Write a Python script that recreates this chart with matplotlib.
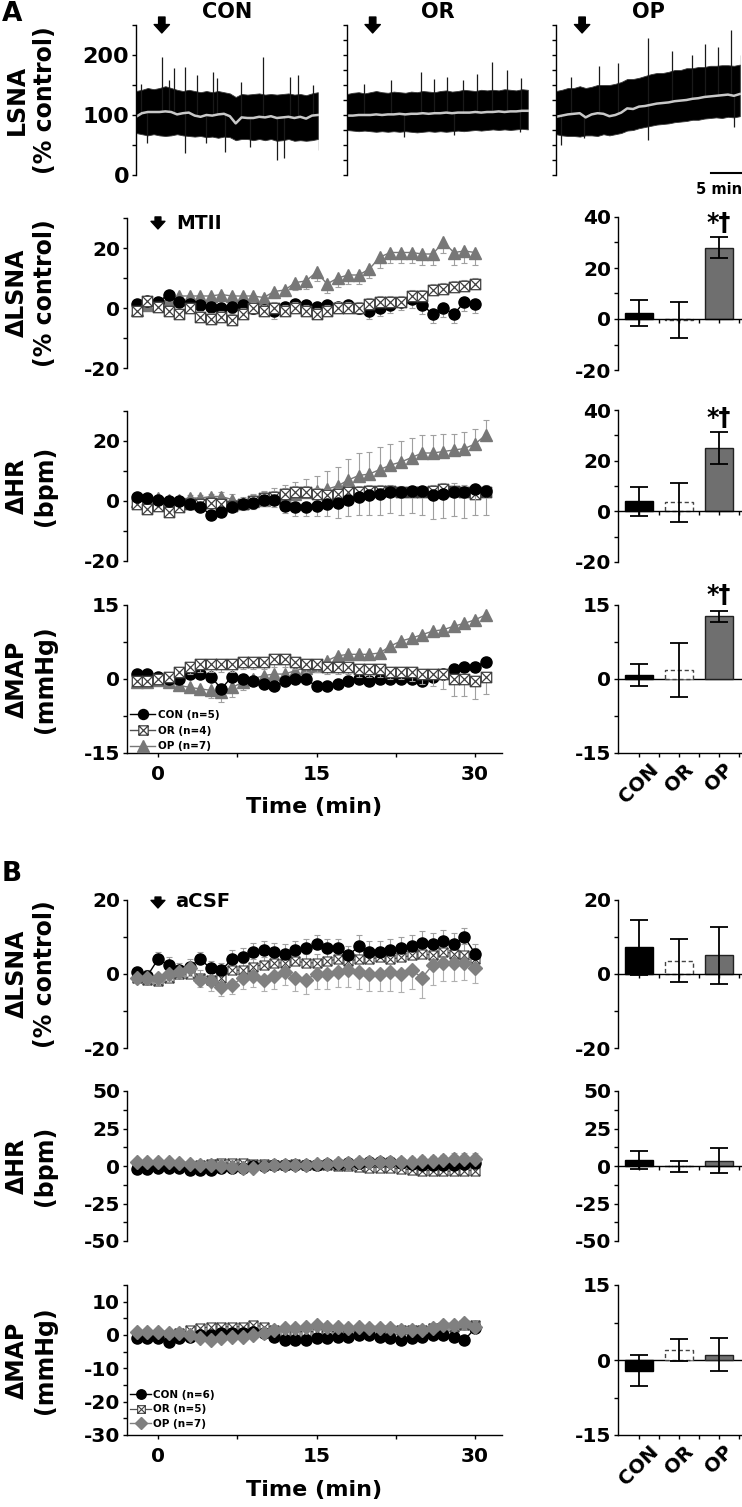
import numpy as np
import matplotlib
matplotlib.use("Agg")
import matplotlib.pyplot as plt
from matplotlib.path import Path
from matplotlib.ticker import FixedLocator

plt.rcParams['font.family'] = 'DejaVu Sans'
plt.rcParams['font.weight'] = 'bold'
plt.rcParams['axes.unicode_minus'] = False
plt.rcParams['axes.linewidth'] = 1.0

# ---------------- data ----------------
groups = ['CON', 'OR', 'OP']

# raw LSNA traces (% control), one value per minute
trace_t = np.arange(32) - 4.4
con_mean = [97, 103, 105, 105, 105, 106, 105, 101, 103, 104, 99, 97, 100, 99, 101, 102,
            98, 86, 96, 95, 95, 97, 96, 98, 95, 96, 97, 95, 97, 94, 99, 100]
con_hi = [140, 142, 145, 143, 145, 148, 145, 142, 140, 142, 140, 138, 140, 138, 140, 138,
          136, 130, 135, 134, 135, 136, 134, 135, 134, 135, 136, 134, 135, 133, 136, 138]
con_lo = [70, 68, 66, 68, 66, 65, 66, 68, 66, 65, 64, 65, 63, 64, 62, 64,
          63, 58, 60, 60, 58, 60, 58, 60, 57, 58, 60, 57, 58, 57, 58, 60]
con_spk_t = [-3.5, 0.0, 1.2, 2.0, 4.0, 6.0, 8.8, 9.4, 13.5, 17.3, 21.8, 23.2, 25.8,
             -2.6, 4.0, 7.6, 10.8, 15.0, 19.6, 20.8, 26.8]
con_spk_v = [152, 197, 158, 178, 180, 167, 172, 161, 155, 197, 164, 167, 150,
             53, 36, 53, 39, 47, 25, 28, 42]

or_mean = [99, 99, 100, 100, 100, 101, 100, 101, 101, 102, 101, 102, 102, 103, 102, 103,
           103, 104, 103, 104, 104, 104, 105, 104, 105, 105, 106, 105, 106, 106, 107, 107]
or_hi = [135, 137, 138, 136, 138, 140, 138, 137, 139, 138, 137, 139, 138, 140, 139, 138,
         140, 141, 139, 140, 142, 141, 140, 142, 141, 142, 141, 143, 142, 141, 143, 142]
or_lo = [75, 74, 73, 74, 73, 72, 73, 72, 73, 72, 73, 72, 71, 72, 73, 72,
         73, 72, 73, 74, 73, 74, 75, 74, 75, 76, 75, 76, 75, 76, 77, 76]
or_spk_t = [-1.5, 3.1, 8.2, 10.5, 12.8, 15.5, 17.9, 20.4, 23.0, 25.5, 5.3, 13.9, 25.3]
or_spk_v = [152, 158, 172, 160, 164, 158, 169, 189, 175, 161, 64, 67, 72]

op_mean = [97, 99, 101, 102, 103, 96, 101, 103, 102, 98, 100, 104, 111, 110, 114, 115,
           117, 119, 120, 121, 123, 124, 125, 127, 128, 130, 131, 132, 133, 134, 132, 135]
op_hi = [140, 142, 145, 145, 148, 145, 147, 150, 150, 150, 152, 155, 160, 160, 162, 165,
         168, 170, 170, 172, 175, 175, 178, 178, 180, 180, 182, 182, 183, 183, 182, 184]
op_lo = [68, 66, 65, 65, 64, 66, 66, 65, 68, 66, 68, 70, 74, 75, 78, 80,
         82, 84, 85, 86, 88, 89, 90, 92, 92, 94, 95, 96, 95, 97, 96, 98]
op_spk_t = [-1.8, 2.9, 6.1, 11.2, 15.2, 18.6, 20.8, 22.9, 25.1, 26.8, -3.5, 0.4, 11.2, 25.6]
op_spk_v = [164, 181, 186, 228, 206, 200, 219, 214, 242, 200, 50, 61, 58, 80]

# panel A time courses (MTII)
t_a_lsna = np.arange(-2, 31)
t_a = np.arange(-2, 32)
con_lsna_a = [1.5, 2.5, 2, 4.5, 2, 1.5, 1, 0.5, 0, 0.5, 1, 0, -0.5, -1, 0.5, 1.5, 1,
              0.5, 1, 0.5, 1, 0, -1, 0, 1, 2, 3, 1, -2, 0, -2, 2, 1.5]
con_lsna_a_err = [1.5, 1.5, 2, 2, 1.5, 1.5, 1.5, 1.5, 1.5, 2, 2, 2, 2, 2.5, 2.5, 2.5, 2,
                  2, 2, 2, 2, 2, 2.5, 2.5, 2.5, 2.5, 3, 3, 3, 3, 3, 3, 3]
or_lsna_a = [-1, 2.5, 0.5, -1, -2, 0, -3, -3.5, -3, -4, -2, 0, -1, 0, -1, 0, -1,
             -2, -1, 0, 0, 0, 1.5, 2, 2, 2, 4, 4, 6, 6.5, 7, 7.5, 8]
or_lsna_a_err = [1.5, 1.5, 1.5, 1.5, 1.5, 1.5, 2, 2, 2, 2, 2, 2, 2, 2, 2, 2, 2,
                 2, 2, 2, 2, 2, 2, 2, 2, 2, 2, 2, 2, 2, 2, 2, 2]
op_lsna_a = [-0.5, 1, 1.5, 3, 4, 4, 4, 4, 4.5, 4, 4, 4, 3.5, 5.5, 6, 8.5, 9,
             12, 8, 10, 11, 11, 13, 17, 18.5, 18.5, 18.5, 18, 18, 22, 18.5, 19, 18.5]
op_lsna_a_err = [1.5, 1.5, 1.5, 2, 2, 2, 2, 2, 2, 2, 2, 2, 2, 2, 2, 2.5, 2.5,
                 3, 3, 3, 3, 3, 3, 3.5, 3.5, 3.5, 3.5, 3.5, 3.5, 3.5, 4, 4, 4]

con_hr_a = [1.5, 1, 0.5, 0, 0, -1, -2, -4.5, -3.5, -2, -1, -0.5, 0.5, 0.5, -1.5, -2, -2,
            -1.5, -1, -0.5, 0.5, 1.5, 2, 2.5, 3, 3, 3.5, 3.5, 2, 2.5, 3, 3, 4, 3.5]
con_hr_a_err = [1, 1, 1, 1, 1, 1, 1.5, 1.5, 1.5, 1.5, 2, 2, 2, 2.5, 2.5, 3, 3,
                3.5, 4, 5, 5.5, 6, 6.5, 7, 7, 7.5, 7.5, 8, 8, 8, 8, 8.5, 8.5, 8]
or_hr_a = [-1, -2.5, -1.5, -3.5, -2, -1, -1, -0.5, -1, -1.5, -1, 0, 1, 1.5, 2.5, 3, 3,
           2.5, 2, 2.5, 3, 3, 3.5, 3.5, 3.5, 3, 3, 3, 3.5, 4, 3.5, 3, 2.5, 3]
or_hr_a_err = [1, 1, 1, 1, 1, 1, 1, 1, 1.5, 1.5, 1.5, 2, 2, 2, 2, 2, 2,
               2, 2, 2, 2, 2, 2, 2, 2, 2, 2, 2, 2, 2, 2.5, 2.5, 2.5, 2.5]
op_hr_a = [0, 0.5, 1, 0.5, 0.5, 1, 1, 1.5, 1.5, 0.5, -0.5, 0, 0.5, 1, 1.5, 2.5, 3,
           3.5, 4, 5, 7, 8.5, 9, 10.5, 12, 13, 14.5, 16, 16, 16.5, 17, 17.5, 19, 22]
op_hr_a_err = [1, 1, 1, 1, 1, 1, 1, 1, 1.5, 2, 2, 2.5, 3, 3.5, 4, 4, 4.5,
               5, 6, 6.5, 7, 7.5, 7.5, 7.5, 7, 7, 6.5, 6, 6, 6, 5.5, 5.5, 5, 5]

con_map_a = [1, 1, 0.5, 0, 0, 1, 1, 0.5, -2, 0.5, 0, -0.5, -1, -1.5, -0.5, 0, 0,
             -1.5, -1.5, -1, -0.5, 0, -0.5, 0, 0, 0, 0, -0.5, 0.5, 1, 2, 2.5, 2.5, 3.5]
con_map_a_err = [0.8, 0.8, 0.8, 0.8, 0.8, 1, 1, 1, 1, 1, 1, 1, 1, 1, 1, 1, 1,
                 1, 1, 1, 1, 1, 1, 1, 1, 1, 1, 1, 1, 1, 1, 1, 1, 1]
or_map_a = [-0.5, -0.5, 0, 0.5, 1.5, 2.5, 3, 3, 3, 3, 3.5, 3.5, 3.5, 4, 4, 3.5, 3,
            3, 2.5, 2.5, 2.5, 2, 2, 2, 1.5, 1.5, 1.5, 1, 1, 1, 0, 0, -0.5, 0.5]
or_map_a_err = [1, 1, 1, 1, 1, 1.5, 1.5, 1.5, 1.5, 1.5, 1.5, 1.5, 1.5, 1.5, 1.5, 1.5, 1.5,
                1.5, 1.5, 1.5, 1.5, 1.5, 1.5, 1.5, 1.5, 1.5, 2, 2, 2.5, 3, 3.5, 3.5, 3.5, 3.5]
op_map_a = [-0.7, -0.7, -0.3, -0.7, -1.3, -1.7, -2, -2.3, -2.7, -1.7, -0.7, 0, 0.7, 1, 1, 1.7, 2.3,
            2.7, 3.7, 4.7, 5, 5, 5, 5.3, 6.7, 7.7, 8.3, 9, 9.7, 10, 10.7, 11.3, 12, 13]
op_map_a_err = [0.5, 0.5, 0.5, 0.5, 0.8, 1, 1.2, 1.5, 2, 2, 1.5, 1, 1, 1, 1, 1, 1,
                1, 1, 1, 1, 1, 1, 1, 1, 1, 1, 1, 1, 1, 1, 1, 1, 1]

# panel B time courses (aCSF)
t_b = np.arange(-2, 31)
con_lsna_b = [0.5, -0.5, 4, 2.5, 1, 2, 4, 1.5, 1, 4, 4.5, 6, 6.5, 6, 5.5, 6.5, 7,
              8, 7, 7, 5, 7.5, 6, 6, 6.5, 7, 7.5, 8.5, 8, 9, 8, 10, 5.5]
con_lsna_b_err = [1.5, 1.5, 2, 2, 2, 2, 2, 2, 2, 2.5, 2.5, 2.5, 2.5, 2.5, 2.5, 2.5, 2.5,
                  2.5, 2.5, 2.5, 2.5, 3, 3, 3, 3, 3, 3, 3, 3, 3, 3, 2.5, 2.5]
or_lsna_b = [-1, -1.5, -2, -1, 0, 0, -1, -1.5, -1, 1, 1, 2, 2.5, 3, 3, 3.5, 3,
             3, 3.5, 4, 3.5, 4, 4, 4.5, 4, 4.5, 5, 5.5, 5, 6, 5.5, 5, 4]
or_lsna_b_err = [1.5, 1.5, 1.5, 1.5, 1.5, 2, 2, 2, 2, 2, 2, 2, 2, 2, 2, 2.5, 2.5,
                 2.5, 2.5, 2.5, 2.5, 2.5, 2.5, 2.5, 3, 3, 3, 3, 3, 3, 3, 3, 3]
op_lsna_b = [-1, -1, -1, 0, 0.5, 1.5, -1.5, -2, -3.5, -3, -1, -0.5, -1.5, -0.5, 0.5, -1, -1.5,
             0, 0, 0.5, 1, 0.5, 0, 0, 0.5, 0, 1, -1, 2.5, 3, 3, 3, 1.5]
op_lsna_b_err = [1.5, 1.5, 1.5, 1.5, 1.5, 2, 2, 2.5, 2.5, 2.5, 3, 3, 3, 3.5, 3.5, 3.5, 4,
                 4, 4, 4, 4.5, 4.5, 4.5, 4.5, 5, 5, 5, 5.5, 5.5, 5, 5, 4.5, 4]

con_hr_b = [-2, -2, -1, -1, -1, -2.5, -2.5, -2.5, -1.5, -1, -1, 0, 0, 0.5, 0.5, 0.5, 1,
            1, 1.5, 1.5, 2, 2, 2.5, 2.5, 2.5, 2, 1.5, 1, 0.5, 1, 1, 1.5, 2]
con_hr_b_err = [1.5, 1.5, 1.5, 1.5, 1.5, 1.5, 1.5, 1.5, 2, 2, 2, 2, 2, 2, 2, 2, 2,
                2, 2, 2, 2, 2, 2, 2, 2, 2, 2, 2, 2, 2, 2.5, 2.5, 2.5]
or_hr_b = [1, 0.5, 0, 0.5, 0, 0, 1, 1.5, 2, 2, 2, 1.5, 1.5, 1, 1, 1.5, 1,
           1, 0.5, 0, 0, -0.5, -1, -1, -1.5, -2, -2.5, -3, -3, -3.5, -3.5, -3, -3]
or_hr_b_err = [1.5, 1.5, 1.5, 1.5, 1.5, 1.5, 1.5, 1.5, 1.5, 1.5, 2, 2, 2, 2, 2, 2, 2,
               2, 2, 2, 2, 2, 2, 2, 2, 2, 2.5, 2.5, 2.5, 2.5, 2.5, 2.5, 2.5]
op_hr_b = [3, 3, 3, 2.5, 2, 1.5, 1, 0.5, 0, -0.5, -1.5, -1, 0, 0.5, 0.5, 0.5, 1,
           1.5, 1.5, 2, 2, 2.5, 2.5, 2.5, 3, 3, 3, 3.5, 3.5, 4, 4.5, 5, 5]
op_hr_b_err = [2, 2, 2, 2, 2, 2, 2, 2, 2, 2, 2, 2, 2, 2, 2, 2, 2.5,
               2.5, 2.5, 2.5, 2.5, 2.5, 3, 3, 3, 3, 3, 3.5, 3.5, 3.5, 4, 4, 4]

con_map_b = [-1, -1, -1, -2, -1, -0.5, 0, 0, 0.5, 0.5, 0.5, 1, 0.5, -0.5, -1.5, -1.5, -1.5,
             -1, -1, -0.5, -0.5, 0, 0, -0.5, -1, -1.5, -1, -0.5, 0, 0, -0.5, -1.5, 2]
con_map_b_err = [0.8, 0.8, 0.8, 0.8, 0.8, 0.8, 0.8, 0.8, 0.8, 0.8, 1, 1, 1, 1, 1, 1, 1,
                 1, 1, 1, 1, 1, 1, 1, 1, 1, 1, 1, 1, 1, 1, 1, 1]
or_map_b = [0, 0, 0, 0, 0.5, 1.5, 2, 2.5, 2.5, 2.5, 2.5, 3, 2.5, 1.5, 1, 1, 1,
            1, 1, 1, 1, 1.5, 1.5, 1.5, 1.5, 1.5, 1.5, 1.5, 2, 2.5, 2.5, 3, 3]
or_map_b_err = [1, 1, 1, 1, 1, 1, 1, 1, 1, 1, 1.2, 1.2, 1.2, 1.2, 1.2, 1.2, 1.2,
                1.2, 1.2, 1.2, 1.2, 1.2, 1.2, 1.2, 1.2, 1.2, 1.2, 1.2, 1.2, 1.2, 1.2, 1.2, 1.2]
op_map_b = [1, 1, 1, 0.5, 0.5, 0, -1, -1.5, -1, -0.5, -0.5, 0, 0.5, 1.5, 2, 2, 2.5,
            3, 2.5, 2.5, 2, 2.5, 2, 2, 2, 1.5, 1.5, 1.5, 2, 3, 3, 3.5, 2.5]
op_map_b_err = [0.8, 0.8, 0.8, 0.8, 0.8, 0.8, 0.8, 0.8, 0.8, 0.8, 1, 1, 1, 1, 1, 1, 1,
                1, 1, 1, 1, 1, 1, 1, 1, 1, 1, 1, 1, 1, 1, 1, 1]

# summary bars (mean, SEM) for CON, OR, OP
bar_a_lsna = [2.3, -0.5, 28.0]
bar_a_lsna_err = [5.0, 7.0, 4.0]
bar_a_hr = [3.9, 3.5, 25.0]
bar_a_hr_err = [5.6, 7.8, 6.4]
bar_a_map = [0.8, 1.8, 12.7]
bar_a_map_err = [2.3, 5.4, 1.1]
bar_b_lsna = [7.2, 3.6, 5.1]
bar_b_lsna_err = [7.4, 5.8, 7.7]
bar_b_hr = [4.2, -0.3, 3.6]
bar_b_hr_err = [6.0, 3.7, 8.2]
bar_b_map = [-2.1, 2.1, 1.1]
bar_b_map_err = [3.1, 2.2, 3.3]

# ---------------- layout ----------------
W, H = 742, 1507
fig = plt.figure(figsize=(W / 100, H / 100), dpi=100)


def box(x0, x1, y0, y1):
    return fig.add_axes([x0 / W, 1 - y1 / H, (x1 - x0) / W, (y1 - y0) / H])


def ftext(x, y, s, **kw):
    fig.text(x / W, 1 - y / H, s, **kw)


# boxed-X marker for OR
box_x = Path([(-1, -1), (1, -1), (1, 1), (-1, 1), (-1, -1), (-1, -1), (1, 1), (-1, 1), (1, -1)],
             [Path.MOVETO, Path.LINETO, Path.LINETO, Path.LINETO, Path.CLOSEPOLY,
              Path.MOVETO, Path.LINETO, Path.MOVETO, Path.LINETO])


def yaxis_style(ax, ylim, major, minor, size=14.5, labels=True):
    ax.set_ylim(ylim)
    ax.yaxis.set_major_locator(FixedLocator(major))
    ax.yaxis.set_minor_locator(FixedLocator(minor))
    ax.tick_params(axis='y', which='both', direction='out', length=3, width=1,
                   pad=2, labelsize=size, labelleft=labels)
    ax.spines['top'].set_visible(False)
    ax.spines['right'].set_visible(False)


def down_arrow(ax, x, y0, y1, scale=10):
    ax.annotate('', xy=(x, y1), xytext=(x, y0), xycoords=('data', 'axes fraction'),
                textcoords=('data', 'axes fraction'), annotation_clip=False,
                arrowprops=dict(arrowstyle='simple,head_length=0.55,head_width=1.0,tail_width=0.42',
                                color='black', shrinkA=0, shrinkB=0, mutation_scale=scale))


# ---- raw traces ----
traces = [
    (136, 319, con_mean, con_hi, con_lo, con_spk_t, con_spk_v, 'CON', 227),
    (347, 529, or_mean, or_hi, or_lo, or_spk_t, or_spk_v, 'OR', 438),
    (556, 741, op_mean, op_hi, op_lo, op_spk_t, op_spk_v, 'OP', 648),
]
for i, (x0, x1, mean, hi, lo, st, sv, name, tx) in enumerate(traces):
    ax = box(x0, x1, 25, 175)
    ax.fill_between(trace_t, lo, hi, color='black', lw=0.6, edgecolor='#3a3a3a')
    base = np.interp(st, trace_t, mean)
    ax.vlines(st, base, sv, color='#1a1a1a', lw=0.9)
    ax.plot(trace_t, mean, color='#c8c8c8', lw=1.8)
    ax.set_xlim(-4.4, 26.8)
    ax.spines['bottom'].set_visible(False)
    ax.set_xticks([])
    if i == 0:
        yaxis_style(ax, (0, 250), [0, 100, 200], [50, 150, 250], size=16)
    else:
        yaxis_style(ax, (0, 250), [0, 50, 100, 150, 200, 250], [25, 75, 125, 175, 225],
                    labels=False)
    down_arrow(ax, 0, 1.053, 0.947, scale=11)
    ftext(tx, 12, name, ha='center', va='center', fontsize=15)
    if i == 2:
        ax.plot([21.8, 26.8], [3, 3], color='black', lw=1.5, clip_on=False)
        ax.text(23.1, -25, '5 min', ha='center', va='center', fontsize=10.5)

# ---- time-course panels ----
st_con = dict(color='black', marker='o', ms=8, mfc='black', mec='black', lw=1)
st_or = dict(color='#505050', marker=box_x, ms=7.5, mfc='white', mec='#404040', mew=0.9, lw=1)
st_op_a = dict(color='#777777', marker='^', ms=9, mfc='#777777', mec='#777777', lw=1)
st_or_b = dict(color='#505050', marker=box_x, ms=6.5, mfc='white', mec='#404040', mew=0.8, lw=0.9)
st_op_b = dict(color='#808080', marker='D', ms=7, mfc='#808080', mec='#808080', lw=1)


def series(ax, t, y, err, up, style, z, ecol='#a0a0a0'):
    e = np.asarray(err, float)
    zero = np.zeros_like(e)
    yerr = [zero, e] if up else [e, zero]
    ax.errorbar(t, y, yerr=yerr, fmt='none', ecolor=ecol, elinewidth=0.8,
                capsize=2.2, capthick=0.8, zorder=z - 0.5)
    return ax.plot(t, y, zorder=z, **style)[0]


def ts_axes(y0, y1, ylim, major, minor, bottom=False):
    ax = box(127, 502, y0, y1)
    ax.set_xlim(-2.93, 32.55)
    yaxis_style(ax, ylim, major, minor)
    if bottom:
        ax.xaxis.set_major_locator(FixedLocator([0, 15, 30]))
        ax.xaxis.set_minor_locator(FixedLocator([7.5, 22.5]))
        ax.tick_params(axis='x', which='both', direction='out', length=3, width=1,
                       pad=6, labelsize=14.5)
    else:
        ax.spines['bottom'].set_visible(False)
        ax.set_xticks([])
    return ax


# A: LSNA
ax = ts_axes(218, 368, (-20, 30), [-20, 0, 20], [-10, 10, 30])
series(ax, t_a_lsna, op_lsna_a, op_lsna_a_err, False, st_op_a, 2)
series(ax, t_a_lsna, con_lsna_a, con_lsna_a_err, False, st_con, 3)
series(ax, t_a_lsna, or_lsna_a, or_lsna_a_err, True, st_or, 4)
down_arrow(ax, 0, 1.007, 0.927)
ax.text(1.7, 0.965, 'MTII', transform=ax.get_xaxis_transform(), ha='left', va='center', fontsize=13.5)

# A: HR
ax = ts_axes(411, 561, (-20, 30), [-20, 0, 20], [-10, 10, 30])
series(ax, t_a, op_hr_a, op_hr_a_err, True, st_op_a, 2)
series(ax, t_a, or_hr_a, or_hr_a_err, True, st_or, 3)
series(ax, t_a, con_hr_a, con_hr_a_err, False, st_con, 4)

# A: MAP
ax = ts_axes(605, 753, (-15, 15), [-15, 0, 15], [-7.5, 7.5], bottom=True)
h_op = series(ax, t_a, op_map_a, op_map_a_err, False, st_op_a, 2)
h_con = series(ax, t_a, con_map_a, con_map_a_err, True, st_con, 3)
h_or = series(ax, t_a, or_map_a, or_map_a_err, False, st_or, 4)
ax.legend([h_con, h_or, h_op], ['CON (n=5)', 'OR (n=4)', 'OP (n=7)'], loc='lower left',
          bbox_to_anchor=(0.0, -0.01), frameon=False, fontsize=7.5, handlelength=2.4,
          handletextpad=0.3, labelspacing=0.55, borderpad=0, borderaxespad=0.3,
          markerscale=0.9)
ftext(314, 807, 'Time (min)', ha='center', va='center', fontsize=16)

# B: LSNA
ax = ts_axes(900, 1048, (-20, 20), [-20, 0, 20], [-10, 10])
series(ax, t_b, or_lsna_b, or_lsna_b_err, True, st_or_b, 2)
series(ax, t_b, con_lsna_b, con_lsna_b_err, True, st_con, 3)
series(ax, t_b, op_lsna_b, op_lsna_b_err, False, st_op_b, 4, ecol='#b0b0b0')
down_arrow(ax, 0, 1.02, 0.946)
ax.text(1.6, 0.99, 'aCSF', transform=ax.get_xaxis_transform(), ha='left', va='center', fontsize=14)

# B: HR
ax = ts_axes(1091, 1241, (-50, 50), [-50, -25, 0, 25, 50], [-37.5, -12.5, 12.5, 37.5])
series(ax, t_b, or_hr_b, or_hr_b_err, False, st_or_b, 2)
series(ax, t_b, con_hr_b, con_hr_b_err, False, st_con, 3)
series(ax, t_b, op_hr_b, op_hr_b_err, True, st_op_b, 4, ecol='#b0b0b0')

# B: MAP
ax = ts_axes(1285, 1435, (-30, 15), [-30, -20, -10, 0, 10], [-25, -15, -5, 5, 15], bottom=True)
h_or = series(ax, t_b, or_map_b, or_map_b_err, True, st_or_b, 2)
h_con = series(ax, t_b, con_map_b, con_map_b_err, False, st_con, 3)
h_op = series(ax, t_b, op_map_b, op_map_b_err, True, st_op_b, 4, ecol='#b0b0b0')
ax.legend([h_con, h_or, h_op], ['CON (n=6)', 'OR (n=5)', 'OP (n=7)'], loc='lower left',
          bbox_to_anchor=(0.0, 0.02), frameon=False, fontsize=7.5, handlelength=2.0,
          handletextpad=0.2, labelspacing=0.45, borderpad=0, borderaxespad=0.3,
          markerscale=0.85)
ftext(314, 1490, 'Time (min)', ha='center', va='center', fontsize=16)

# ---- bar panels ----
def bar_panel(y0, y1, means, errs, ylim, major, minor, labels=False, star=False):
    ax = box(618, 742, y0, y1)
    xs = [0, 1, 2]
    ax.bar(0, means[0], width=0.7, color='black', edgecolor='black', lw=1, zorder=2)
    ax.bar(1, means[1], width=0.7, facecolor='white', edgecolor='#444444', lw=1,
           linestyle=(0, (3, 2)), zorder=2)
    ax.bar(2, means[2], width=0.7, color='#6f6f6f', edgecolor='#222222', lw=1, zorder=2)
    ax.errorbar(xs, means, yerr=errs, fmt='none', ecolor='black', elinewidth=1.3,
                capsize=6.5, capthick=1.3, zorder=3)
    ax.set_xlim(-0.525, 2.575)
    yaxis_style(ax, ylim, major, minor)
    ax.xaxis.set_major_locator(FixedLocator(xs))
    ax.xaxis.set_minor_locator(FixedLocator([0.5, 1.5, 2.5]))
    if labels:
        ax.axhline(0, color='black', lw=1, zorder=1)
        ax.set_xticklabels(groups, rotation=45, ha='center', va='top', fontsize=14)
        ax.tick_params(axis='x', which='both', direction='out', length=3, width=1, pad=2)
    else:
        ax.spines['bottom'].set_position(('data', 0))
        ax.tick_params(axis='x', which='both', direction='out', length=3, width=1,
                       labelbottom=False)
    if star:
        ax.text(2, means[2] + errs[2] + 0.8, '*†', ha='center', va='bottom', fontsize=17)
    return ax


bar_panel(217, 370, bar_a_lsna, bar_a_lsna_err, (-20, 40), [-20, 0, 20, 40], [-10, 10, 30], star=True)
bar_panel(410, 562, bar_a_hr, bar_a_hr_err, (-20, 40), [-20, 0, 20, 40], [-10, 10, 30], star=True)
bar_panel(605, 753, bar_a_map, bar_a_map_err, (-15, 15), [-15, 0, 15], [-7.5, 7.5], labels=True, star=True)
bar_panel(900, 1048, bar_b_lsna, bar_b_lsna_err, (-20, 20), [-20, 0, 20], [-10, 10])
bar_panel(1091, 1241, bar_b_hr, bar_b_hr_err, (-50, 50), [-50, -25, 0, 25, 50], [-37.5, -12.5, 12.5, 37.5])
bar_panel(1285, 1435, bar_b_map, bar_b_map_err, (-15, 15), [-15, 0, 15], [-7.5, 7.5], labels=True)

# ---- y labels and panel letters ----
ylabels = [(100, 'LSNA\n(% control)'), (293, 'ΔLSNA\n(% control)'), (486, 'ΔHR\n(bpm)'),
           (679, 'ΔMAP\n(mmHg)'), (974, 'ΔLSNA\n(% control)'), (1166, 'ΔHR\n(bpm)'),
           (1360, 'ΔMAP\n(mmHg)')]
for yc, s in ylabels:
    ftext(31, yc, s, rotation=90, ha='center', va='center', fontsize=17, linespacing=1.25)

ftext(2, 14, 'A', ha='left', va='center', fontsize=19)
ftext(2, 874, 'B', ha='left', va='center', fontsize=19)

fig.savefig('out.png', dpi=100)
